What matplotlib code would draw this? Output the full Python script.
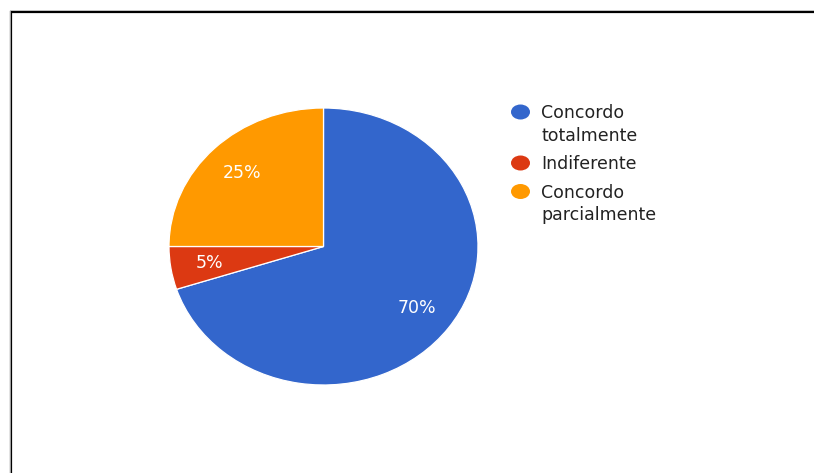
import matplotlib
matplotlib.use("Agg")
import matplotlib.pyplot as plt
from matplotlib.patches import Ellipse
from matplotlib.lines import Line2D

# Survey responses (share of answers, %)
categories = ["Concordo totalmente", "Indiferente", "Concordo parcialmente"]
legend_lines = [["Concordo", "totalmente"], ["Indiferente"], ["Concordo", "parcialmente"]]
values = [70, 5, 25]
colors = ["#3366CC", "#DC3912", "#FF9900"]

W, H = 814, 473
fig = plt.figure(figsize=(W / 100, H / 100), dpi=100)
fig.patch.set_facecolor("white")

FONT = "DejaVu Sans"
FS = 12.5

# Pie area (pixel box), drawn clockwise from 12 o'clock
cx, cy, rx, ry = 323.5, 246.5, 154.5, 138.5
ax = fig.add_axes([(cx - rx) / W, (H - cy - ry) / H, 2 * rx / W, 2 * ry / H])
wedges, texts, autotexts = ax.pie(
    values, colors=colors, startangle=90, counterclock=False,
    autopct="%d%%", pctdistance=0.75, radius=1,
    wedgeprops=dict(edgecolor="white", linewidth=0.9),
    textprops=dict(color="white", fontsize=FS, family=FONT),
)
ax.set_xlim(-1, 1)
ax.set_ylim(-1, 1)
ax.set_aspect("auto")
ax.axis("off")

# Overlay in pixel coordinates for the legend and the frame
ov = fig.add_axes([0, 0, 1, 1], zorder=5)
ov.set_xlim(0, W)
ov.set_ylim(H, 0)
ov.axis("off")

x_marker, x_text = 520.5, 541
line_step, entry_step = 22.5, 28.5
baseline = 118
for lines, col in zip(legend_lines, colors):
    ov.add_patch(Ellipse((x_marker, baseline - 6), 19, 15, facecolor=col, edgecolor="none"))
    for i, ln in enumerate(lines):
        ov.text(x_text, baseline + i * line_step, ln, fontsize=FS, family=FONT,
                color="#222222", va="baseline", ha="left")
    baseline += (len(lines) - 1) * line_step + entry_step

# Frame: top and left edges
ov.add_line(Line2D([W + 5, 11, 11], [12, 12, H + 5], color="black", linewidth=1.6,
                   solid_joinstyle="miter"))
ov.add_line(Line2D([W + 5, 9.5, 9.5], [10.5, 10.5, H + 5], color="#BBBBBB", linewidth=0.6))

fig.savefig("out.png", dpi=100, facecolor="white")
